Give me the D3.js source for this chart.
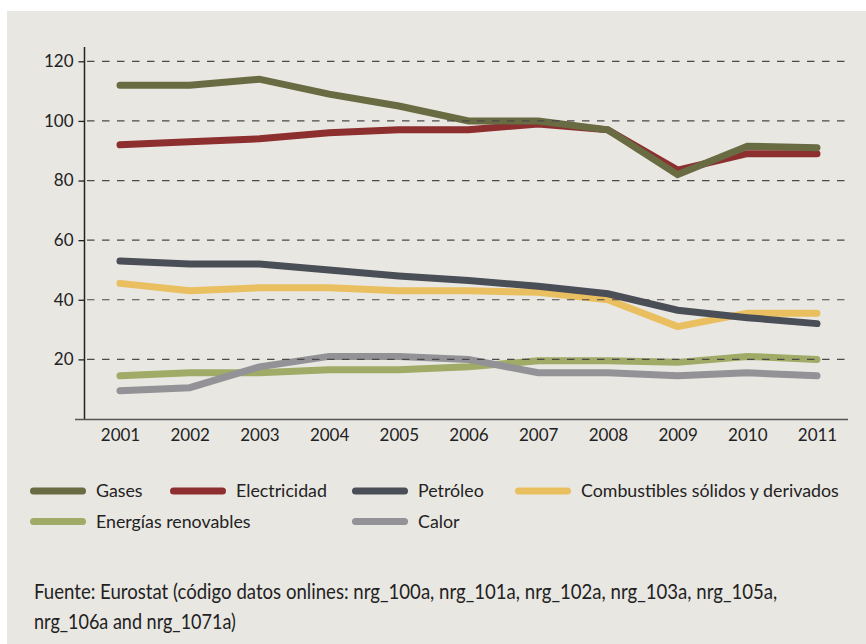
<!DOCTYPE html>
<html lang="es">
<head>
<meta charset="utf-8">
<script src="https://cdn.jsdelivr.net/npm/d3@7"></script>
<style>
  html, body { margin: 0; padding: 0; background: #ffffff; }
  svg { display: block; }
  text { font-family: Lato, "Open Sans", sans-serif; fill: #222; }
</style>
</head>
<body>
<svg id="chart" width="866" height="644"></svg>
<script>
// Years on the horizontal axis
const years = ["2001","2002","2003","2004","2005","2006","2007","2008","2009","2010","2011"];

// Index values per energy source
const gases        = [112, 112, 114, 109, 105, 100, 100, 97, 82, 91.5, 91];
const electricidad = [92, 93, 94, 96, 97, 97, 99, 97, 83.5, 89, 89];
const petroleo     = [53, 52, 52, 50, 48, 46.5, 44.5, 42, 36.5, 34, 32];
const combustibles = [45.5, 43, 44, 44, 43, 43, 42.5, 40, 31, 35.5, 35.5];
const renovables   = [14.5, 15.5, 15.5, 16.5, 16.5, 17.5, 19.5, 19.5, 19, 21, 20];
const calor        = [9.5, 10.5, 17.5, 21, 21, 20, 15.5, 15.5, 14.5, 15.5, 14.5];

const seriesNames = ["Gases", "Electricidad", "Petróleo", "Combustibles sólidos y derivados", "Energías renovables", "Calor"];
const yTicks = [20, 40, 60, 80, 100, 120];

const sourceLines = [
  "Fuente: Eurostat (código datos onlines: nrg_100a, nrg_101a, nrg_102a, nrg_103a, nrg_105a,",
  "nrg_106a and nrg_1071a)"
];

const series = [
  { name: seriesNames[0], values: gases,        color: "#696b43" },
  { name: seriesNames[1], values: electricidad, color: "#8d2f2f" },
  { name: seriesNames[2], values: petroleo,     color: "#4a4e56" },
  { name: seriesNames[3], values: combustibles, color: "#e9bf60" },
  { name: seriesNames[4], values: renovables,   color: "#9fab67" },
  { name: seriesNames[5], values: calor,        color: "#929297" }
];

const svg = d3.select("#chart");

// panel background
svg.append("rect")
  .attr("x", 7).attr("y", 11)
  .attr("width", 866 - 7).attr("height", 644 - 11)
  .attr("fill", "#e9e7e2");

const x = d3.scalePoint().domain(years).range([120, 817]);
const y = d3.scaleLinear().domain([0, 120]).range([419, 61.3]);

const plot = svg.append("g");

// series lines (drawn bottom-up so gases sits above electricity)
const line = d3.line()
  .x((d, i) => x(years[i]))
  .y(d => y(d))
  .curve(d3.curveLinear);

const drawOrder = [4, 5, 3, 2, 1, 0];
plot.selectAll("path.series")
  .data(drawOrder.map(i => series[i]))
  .join("path")
  .attr("class", "series")
  .attr("d", d => line(d.values))
  .attr("fill", "none")
  .attr("stroke", d => d.color)
  .attr("stroke-width", 7)
  .attr("stroke-linecap", "round")
  .attr("stroke-linejoin", "miter");

// dashed gridlines on top of the lines
plot.selectAll("line.grid")
  .data(yTicks)
  .join("line")
  .attr("class", "grid")
  .attr("x1", 85).attr("x2", 850)
  .attr("y1", d => y(d)).attr("y2", d => y(d))
  .attr("stroke", "#4a4a4a")
  .attr("stroke-width", 1.2)
  .attr("stroke-dasharray", "7.5,7.5")
  .attr("stroke-dashoffset", -2);

// y axis
const yAxis = d3.axisLeft(y).tickValues(yTicks).tickSize(6).tickPadding(5);
const gy = svg.append("g").attr("transform", "translate(84.5,0)").call(yAxis);
gy.select(".domain").remove();
gy.selectAll(".tick line").attr("stroke", "#222").attr("stroke-width", 1.3);
gy.selectAll(".tick text")
  .style("font-family", "Lato, sans-serif")
  .style("font-size", "17px")
  .attr("fill", "#222");
svg.append("line")
  .attr("x1", 84.5).attr("x2", 84.5)
  .attr("y1", 47).attr("y2", 419)
  .attr("stroke", "#222").attr("stroke-width", 1.5);

// x axis
const xAxis = d3.axisBottom(x).tickSize(0).tickPadding(10);
const gx = svg.append("g").attr("transform", "translate(0,419)").call(xAxis);
gx.select(".domain").remove();
gx.selectAll(".tick text")
  .style("font-family", "Lato, sans-serif")
  .style("font-size", "17px")
  .attr("fill", "#222");
svg.append("line")
  .attr("x1", 75).attr("x2", 848)
  .attr("y1", 419.5).attr("y2", 419.5)
  .attr("stroke", "#555").attr("stroke-width", 1.6);

// legend
const legendCols = [30, 170, 352, 515];
const legendRows = [491, 521.5];
const legendSlots = [[0, 0], [1, 0], [2, 0], [3, 0], [0, 1], [2, 1]];
const legend = svg.append("g");
series.forEach((s, i) => {
  const [c, r] = legendSlots[i];
  const lx = legendCols[c], ly = legendRows[r];
  legend.append("line")
    .attr("x1", lx + 3.5).attr("x2", lx + 52.5)
    .attr("y1", ly).attr("y2", ly)
    .attr("stroke", s.color)
    .attr("stroke-width", 7)
    .attr("stroke-linecap", "round");
  legend.append("text")
    .attr("x", lx + 66).attr("y", ly)
    .attr("dy", "0.35em")
    .style("font-size", "17.8px")
    .text(s.name);
});

// source note, set in a narrowed face: each line is squeezed horizontally to its width
const noteWidths = [744, 202];
sourceLines.forEach((t, i) => {
  const g = svg.append("g");
  const txt = g.append("text")
    .attr("x", 0).attr("y", 0)
    .style("font-size", "22px")
    .attr("fill", "#333")
    .text(t);
  const natural = txt.node().getComputedTextLength();
  const sx = noteWidths[i] / natural;
  g.attr("transform", `translate(34,${599 + i * 30}) scale(${sx},1)`);
});
</script>
</body>
</html>
